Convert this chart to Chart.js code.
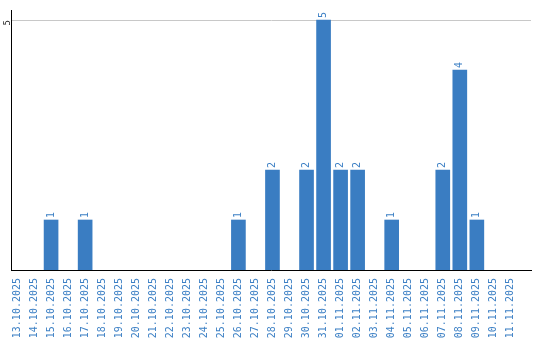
<!DOCTYPE html>
<html>
<head>
<meta charset="utf-8">
<style>
  html, body { margin: 0; padding: 0; background: #fff; }
  #wrap { width: 540px; height: 340px; }
</style>
<script src="https://cdn.jsdelivr.net/npm/chart.js@4/dist/chart.umd.min.js"></script>
</head>
<body>
<div id="wrap"><canvas id="chart" width="540" height="340"></canvas></div>
<script>
// dates on the x axis
const days = [
  '13.10.2025', '14.10.2025', '15.10.2025', '16.10.2025', '17.10.2025',
  '18.10.2025', '19.10.2025', '20.10.2025', '21.10.2025', '22.10.2025',
  '23.10.2025', '24.10.2025', '25.10.2025', '26.10.2025', '27.10.2025',
  '28.10.2025', '29.10.2025', '30.10.2025', '31.10.2025', '01.11.2025',
  '02.11.2025', '03.11.2025', '04.11.2025', '05.11.2025', '06.11.2025',
  '07.11.2025', '08.11.2025', '09.11.2025', '10.11.2025', '11.11.2025'
];
// count per day
const counts = [
  0, 0, 1, 0, 1,
  0, 0, 0, 0, 0,
  0, 0, 0, 1, 0,
  2, 0, 2, 5, 2,
  2, 0, 1, 0, 0,
  2, 4, 1, 0, 0
];
const yTicks = [5];

const blue = '#3a7dc2';
const labelBlue = '#3d80c5';
const mono = '"DejaVu Sans Mono", "Liberation Mono", monospace';

// value labels above bars, rotated
const valueLabels = {
  id: 'valueLabels',
  afterDatasetsDraw(chart) {
    const ctx = chart.ctx;
    const meta = chart.getDatasetMeta(0);
    ctx.save();
    ctx.font = '10px ' + mono;
    ctx.fillStyle = labelBlue;
    ctx.textAlign = 'left';
    ctx.textBaseline = 'middle';
    meta.data.forEach((bar, i) => {
      if (!counts[i]) return;
      ctx.save();
      ctx.translate(bar.x, bar.y - 2);
      ctx.rotate(-Math.PI / 2);
      ctx.fillText(String(counts[i]), 0, 0);
      ctx.restore();
    });
    ctx.restore();
  }
};

new Chart(document.getElementById('chart'), {
  type: 'bar',
  data: {
    datasets: [{
      // empty days get no bar at all
      data: counts.map((v, i) => ({ x: i, y: v || null })),
      backgroundColor: blue,
      borderWidth: 0,
      barThickness: 14
    }]
  },
  options: {
    responsive: false,
    animation: false,
    layout: { padding: { top: 10, right: 9, left: 0, bottom: 0 } },
    plugins: { legend: { display: false }, tooltip: { enabled: false } },
    scales: {
      x: {
        type: 'linear',
        offset: false,
        min: -0.353,
        max: 30.18,
        afterBuildTicks: s => { s.ticks = days.map((d, i) => ({ value: i })); },
        afterFit: s => { s.height = 70; },
        grid: { display: false, offset: false },
        border: { display: true, color: '#000', width: 1 },
        ticks: {
          autoSkip: false,
          minRotation: 90,
          maxRotation: 90,
          padding: 0,
          color: labelBlue,
          font: { family: mono, size: 10 },
          callback: v => days[v]
        }
      },
      y: {
        min: 0,
        max: 5.2,
        afterBuildTicks: s => { s.ticks = yTicks.map(v => ({ value: v })); },
        afterFit: s => { s.width = 11; },
        grid: { color: '#c8c8c8', drawTicks: false },
        border: { display: true, color: '#000', width: 1 },
        ticks: {
          minRotation: 90,
          maxRotation: 90,
          padding: 3,
          color: '#222',
          font: { family: mono, size: 9 }
        }
      }
    }
  },
  plugins: [valueLabels]
});
</script>
</body>
</html>
